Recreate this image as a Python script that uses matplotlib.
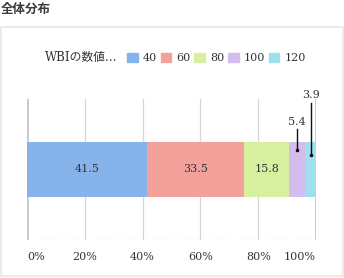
import matplotlib
matplotlib.use('Agg')
import matplotlib.pyplot as plt
from matplotlib.patches import Rectangle

# data
categories = ['40', '60', '80', '100', '120']
values = [41.5, 33.5, 15.8, 5.4, 3.9]
colors = ['#86b4ea', '#f4a19c', '#d7f0a0', '#d4bcee', '#a0dfee']
ticks = [0, 20, 40, 60, 80, 100]
tick_labels = ['0%', '20%', '40%', '60%', '80%', '100%']

SERIF = ['DejaVu Serif', 'Noto Sans CJK JP']
TXT = '#333333'

W, H = 344, 278
fig = plt.figure(figsize=(W / 100, H / 100), dpi=100)
fig.patch.set_facecolor('white')

# outer panel frame + title
fig.patches.append(Rectangle((0.5 / W, 1 - 276 / H), 342.5 / W, 249 / H,
                             transform=fig.transFigure, fill=False,
                             edgecolor='#e6e6e6', linewidth=1.2))
fig.text(1 / W, 1 - 9.5 / H, '全体分布', fontsize=9, fontweight='bold',
         family=['Noto Sans CJK JP', 'DejaVu Sans'], color='#3a3a3a',
         ha='left', va='center')

ax = fig.add_axes([27 / W, 1 - 240 / H, 289 / W, 141 / H])
ax.set_xlim(0, 100)
ax.set_ylim(0, 1)
for s in ax.spines.values():
    s.set_visible(False)

# grid
for t in ticks:
    edge = t in (0, 100)
    ax.axvline(t, color='#c8c8c8' if edge else '#d6d6d6',
               lw=2.0 if edge else 0.9, zorder=0)
ax.axhline(0, color='#cccccc', lw=0.9, ls=(0, (3, 2)), zorder=0)

# stacked bar
left = 0
centers = []
for v, c in zip(values, colors):
    ax.barh(0.5, v, left=left, height=0.39, color=c, edgecolor='none', zorder=2)
    centers.append(left + v / 2)
    left += v

for i in range(3):
    ax.text(centers[i], 0.5, f'{values[i]}', ha='center', va='center',
            fontsize=8, family=SERIF, color=TXT, zorder=3)

# small segments: leader lines
for i, (y0, y1, ty) in zip([3, 4], [(0.638, 0.79, 0.835), (0.60, 0.97, 1.025)]):
    ax.plot([centers[i], centers[i]], [y0, y1], color='#111111', lw=1.0,
            zorder=3, clip_on=False)
    ax.plot([centers[i]], [y0], marker='o', ms=1.6, color='#111111', zorder=3)
    ax.text(centers[i], ty, f'{values[i]}', ha='center', va='center',
            fontsize=8, family=SERIF, color=TXT, zorder=3, clip_on=False)

ax.set_yticks([])
ax.set_xticks(ticks)
ax.set_xticklabels(tick_labels, fontsize=8, family=SERIF, color=TXT)
ax.tick_params(axis='x', length=0, pad=9)
labs = ax.get_xticklabels()
labs[0].set_horizontalalignment('left')
labs[-1].set_horizontalalignment('right')

# legend
fig.text(45 / W, 1 - 58 / H, 'WBIの数値…', fontsize=8.5, family=SERIF,
         color=TXT, ha='left', va='center')
handles = [Rectangle((0, 0), 1, 1, color=c) for c in colors]
fig.legend(handles, categories, loc='center left',
           bbox_to_anchor=(127 / W, 1 - 58 / H), ncol=5, frameon=False,
           prop={'family': SERIF, 'size': 8}, labelcolor=TXT,
           handlelength=0.95, handleheight=0.95, handletextpad=0.45,
           columnspacing=0.35, borderaxespad=0, borderpad=0)

fig.savefig('out.png', dpi=100)
